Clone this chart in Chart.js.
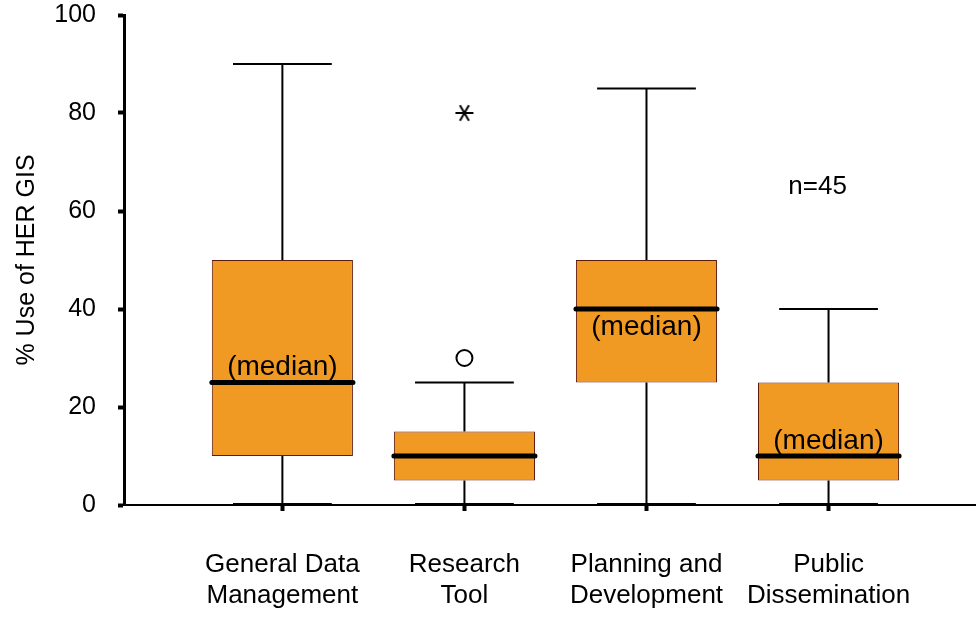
<!DOCTYPE html>
<html lang="en">
<head>
    <meta charset="UTF-8">
    <title>% Use of HER GIS</title>
    <script src="https://cdn.jsdelivr.net/npm/chart.js"></script>
    <style>
        html, body { margin: 0; padding: 0; background: #ffffff; overflow: hidden; }
        #wrap { width: 976px; height: 619px; }
    </style>
</head>
<body>
    <div id="wrap"><canvas id="chart"></canvas></div>

    <script>
        // box plot data, one entry per category
        const categories = [['General Data', 'Management'], ['Research', 'Tool'], ['Planning and', 'Development'], ['Public', 'Dissemination']];
        const whiskerLow  = [0, 0, 0, 0];
        const quartile1   = [10, 5, 25, 5];
        const medians     = [25, 10, 40, 10];
        const quartile3   = [50, 15, 50, 25];
        const whiskerHigh = [90, 25, 85, 40];
        // outliers (circle) and extremes (asterisk), by category number
        const outliers = [{ x: 2, y: 30 }];
        const extremes = [{ x: 2, y: 80 }];
        const yTicks = [0, 20, 40, 60, 80, 100];

        Chart.defaults.font.family = '"Liberation Sans", Arial, sans-serif';
        Chart.defaults.color = '#000000';

        // asterisk marker
        const star = document.createElement('canvas');
        star.width = 22; star.height = 22;
        (function () {
            const c = star.getContext('2d');
            c.strokeStyle = '#000'; c.lineWidth = 2;
            c.beginPath();
            for (let a = 0; a < 3; a++) {
                const t = a * Math.PI / 3;
                c.moveTo(11 - 9 * Math.cos(t), 11 - 9 * Math.sin(t));
                c.lineTo(11 + 9 * Math.cos(t), 11 + 9 * Math.sin(t));
            }
            c.stroke();
        })();

        const boxPlot = {
            id: 'boxPlot',
            beforeDatasetsDraw(chart) {
                const { ctx, scales: { y } } = chart;
                ctx.save();
                ctx.strokeStyle = '#000';
                ctx.lineWidth = 2;
                chart.getDatasetMeta(0).data.forEach((bar, i) => {
                    const { x, width } = bar.getProps(['x', 'width'], true);
                    const cap = width * 0.35;
                    const lo = y.getPixelForValue(whiskerLow[i]);
                    const hi = y.getPixelForValue(whiskerHigh[i]);
                    ctx.beginPath();
                    ctx.moveTo(x, y.getPixelForValue(quartile3[i])); ctx.lineTo(x, hi);
                    ctx.moveTo(x, y.getPixelForValue(quartile1[i])); ctx.lineTo(x, lo);
                    ctx.moveTo(x - cap, hi); ctx.lineTo(x + cap, hi);
                    ctx.moveTo(x - cap, lo - 1); ctx.lineTo(x + cap, lo - 1);
                    ctx.stroke();
                });
                ctx.restore();
            },
            afterDatasetsDraw(chart, args, opts) {
                const { ctx, scales: { x: xs, y } } = chart;
                ctx.save();
                ctx.strokeStyle = '#000';
                ctx.lineWidth = 5;
                ctx.lineCap = 'round';
                ctx.fillStyle = '#000';
                ctx.font = opts.font;
                ctx.textAlign = 'center';
                chart.getDatasetMeta(0).data.forEach((bar, i) => {
                    const { x, width } = bar.getProps(['x', 'width'], true);
                    const m = y.getPixelForValue(medians[i]);
                    ctx.beginPath();
                    ctx.moveTo(x - width / 2, m);
                    ctx.lineTo(x + width / 2, m);
                    ctx.stroke();
                    const side = opts.medianLabel[i];
                    if (side === 'above') {
                        ctx.textBaseline = 'bottom';
                        ctx.fillText('(median)', x, m - 1);
                    } else if (side === 'below') {
                        ctx.textBaseline = 'top';
                        ctx.fillText('(median)', x, m + 4);
                    }
                });
                const n = opts.note;
                ctx.font = opts.noteFont;
                ctx.textBaseline = 'middle';
                ctx.fillText(n.text, xs.getPixelForValue(n.x), y.getPixelForValue(n.y));
                ctx.restore();
            }
        };

        new Chart(document.getElementById('chart'), {
            type: 'bar',
            data: {
                datasets: [
                    {
                        data: categories.map((c, i) => ({ x: i + 1, y: [quartile1[i], quartile3[i]] })),
                        backgroundColor: '#f19a23',
                        borderColor: '#5e1a0c',
                        borderWidth: 1,
                        borderSkipped: false,
                        categoryPercentage: 1,
                        barPercentage: 0.775
                    },
                    {
                        type: 'scatter',
                        data: outliers,
                        pointStyle: 'circle',
                        pointRadius: 8,
                        borderWidth: 2,
                        borderColor: '#000',
                        backgroundColor: 'rgba(0,0,0,0)'
                    },
                    {
                        type: 'scatter',
                        data: extremes,
                        pointStyle: star,
                        pointRadius: 10
                    }
                ]
            },
            options: {
                responsive: true,
                maintainAspectRatio: false,
                animation: false,
                layout: { autoPadding: false, padding: { top: 15, right: 0, left: 0, bottom: 0 } },
                plugins: {
                    legend: { display: false },
                    tooltip: { enabled: false },
                    boxPlot: {
                        font: '28px "Liberation Sans", Arial, sans-serif',
                        noteFont: '26px "Liberation Sans", Arial, sans-serif',
                        medianLabel: ['above', null, 'below', 'above'],
                        note: { text: 'n=45', x: 3.94, y: 65 }
                    }
                },
                scales: {
                    x: {
                        type: 'linear',
                        min: 0.13,
                        max: 4.81,
                        offset: false,
                        afterBuildTicks: axis => { axis.ticks = categories.map((c, i) => ({ value: i + 1 })); },
                        afterFit: axis => {
                            axis.height = 114;
                            axis.paddingLeft = 0;
                            axis.paddingRight = 0;
                        },
                        ticks: {
                            callback: (v, i) => categories[i],
                            font: { size: 26 },
                            color: '#000',
                            padding: 38,
                            maxRotation: 0,
                            autoSkip: false
                        },
                        grid: { offset: false, drawOnChartArea: false, tickLength: 6, tickWidth: 4, tickColor: '#000' },
                        border: { color: '#000', width: 2 }
                    },
                    y: {
                        min: 0,
                        max: 100,
                        afterBuildTicks: axis => { axis.ticks = yTicks.map(v => ({ value: v })); },
                        afterFit: axis => {
                            axis.width = 124;
                            axis.paddingTop = 0;
                            axis.paddingBottom = 0;
                        },
                        ticks: { font: { size: 25 }, color: '#000', padding: 22 },
                        grid: { drawOnChartArea: false, tickLength: 6, tickWidth: 4, tickColor: '#000' },
                        border: { color: '#000', width: 3 },
                        title: {
                            display: true,
                            text: '% Use of HER GIS',
                            font: { size: 25 },
                            color: '#000',
                            padding: { top: 12, bottom: 0 }
                        }
                    }
                }
            },
            plugins: [boxPlot]
        });
    </script>
</body>
</html>
